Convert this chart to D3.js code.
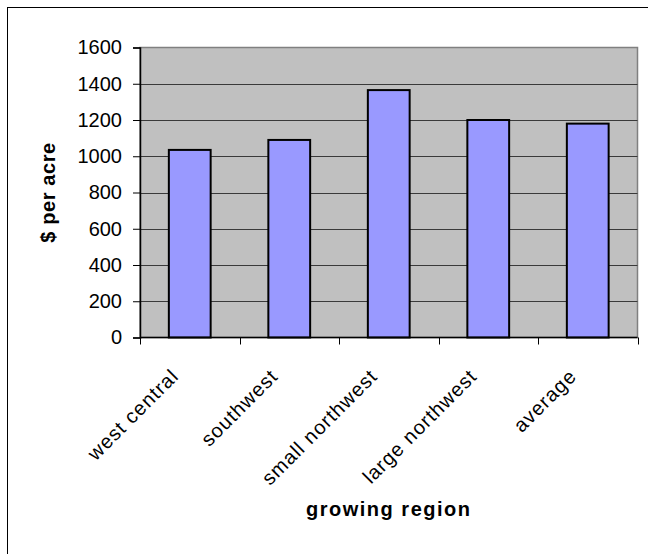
<!DOCTYPE html>
<html>
<head>
<meta charset="utf-8">
<script src="https://cdn.jsdelivr.net/npm/d3@7"></script>
<style>
  body { margin: 0; background: #fff; }
  text { font-family: "Liberation Sans", Arial, sans-serif; }
</style>
</head>
<body>
<script>
// chart values
const regions = ["west central", "southwest", "small northwest", "large northwest", "average"];
const costs = [1035, 1090, 1365, 1200, 1180];
const yTicks = [0, 200, 400, 600, 800, 1000, 1200, 1400, 1600];

const width = 648, height = 554;
const margin = {top: 47.5, right: 10.5, bottom: 216.5, left: 140};

const svg = d3.select("body").append("svg")
    .attr("width", width)
    .attr("height", height);

// outer chart frame (runs off the right/bottom edge)
svg.append("rect")
    .attr("x", 7.5).attr("y", 7.5)
    .attr("width", 700).attr("height", 700)
    .attr("fill", "none")
    .attr("stroke", "#000")
    .attr("stroke-width", 1);

const x = d3.scaleBand(regions, [margin.left, width - margin.right])
    .paddingInner(0.58)
    .paddingOuter(0.29);

const y = d3.scaleLinear([0, 1600], [height - margin.bottom, margin.top]);

const xr = d3.scaleBand(regions, [margin.left, width - margin.right]); // category boundaries

// plot background
svg.append("rect")
    .attr("x", margin.left)
    .attr("y", margin.top)
    .attr("width", width - margin.right - margin.left)
    .attr("height", y(0) - margin.top)
    .attr("fill", "#c0c0c0")
    .attr("stroke", "#808080")
    .attr("stroke-width", 1.5);

// gridlines
svg.append("g")
    .attr("stroke", "#3a3a3a")
    .attr("stroke-width", 1)
  .selectAll("line")
  .data(yTicks.filter(d => d > 0 && d < 1600))
  .join("line")
    .attr("x1", margin.left)
    .attr("x2", width - margin.right)
    .attr("y1", d => Math.round(y(d)) + 0.5)
    .attr("y2", d => Math.round(y(d)) + 0.5);

// bars
svg.append("g")
  .selectAll("rect")
  .data(costs)
  .join("rect")
    .attr("x", (d, i) => x(regions[i]))
    .attr("y", d => y(d))
    .attr("width", x.bandwidth())
    .attr("height", d => y(0) - y(d))
    .attr("fill", "#9999ff")
    .attr("stroke", "#000")
    .attr("stroke-width", 2);

// y axis
svg.append("g")
    .attr("transform", `translate(${margin.left},0)`)
    .call(d3.axisLeft(y).tickValues(yTicks).tickSize(7).tickPadding(11).tickFormat(d3.format("d")))
    .call(g => g.select(".domain").attr("stroke", "#000").attr("stroke-width", 1.5))
    .call(g => g.selectAll(".tick line").attr("stroke", "#000"))
    .call(g => g.selectAll(".tick text")
        .attr("fill", "#000")
        .attr("font-size", 20)
        .attr("font-family", "'Liberation Sans', Arial, sans-serif"));

// x axis: ticks on category boundaries
const xAxis = svg.append("g")
    .attr("transform", `translate(0,${y(0)})`);

xAxis.append("line")
    .attr("x1", margin.left).attr("x2", width - margin.right)
    .attr("y1", 0).attr("y2", 0)
    .attr("stroke", "#000").attr("stroke-width", 1.5);

xAxis.selectAll("line.tick")
  .data(regions.map(r => xr(r)).concat([width - margin.right]))
  .join("line")
    .attr("class", "tick")
    .attr("x1", d => Math.round(d) + 0.5).attr("x2", d => Math.round(d) + 0.5)
    .attr("y1", 0).attr("y2", 7)
    .attr("stroke", "#000");

xAxis.selectAll("text")
  .data(regions)
  .join("text")
    .attr("transform", d => `translate(${xr(d) + xr.bandwidth() / 2 - 10},${40}) rotate(-45)`)
    .attr("text-anchor", "end")
    .attr("font-size", 20)
    .attr("letter-spacing", 1)
    .attr("fill", "#000")
    .text(d => d);

// axis titles
svg.append("text")
    .attr("transform", `translate(55,${(margin.top + y(0)) / 2}) rotate(-90)`)
    .attr("text-anchor", "middle")
    .attr("font-size", 20)
    .attr("font-weight", "bold")
    .attr("letter-spacing", 0.6)
    .text("$ per acre");

svg.append("text")
    .attr("x", (margin.left + width - margin.right) / 2)
    .attr("y", 516)
    .attr("text-anchor", "middle")
    .attr("font-size", 20)
    .attr("font-weight", "bold")
    .attr("letter-spacing", 1.5)
    .text("growing region");
</script>
</body>
</html>
